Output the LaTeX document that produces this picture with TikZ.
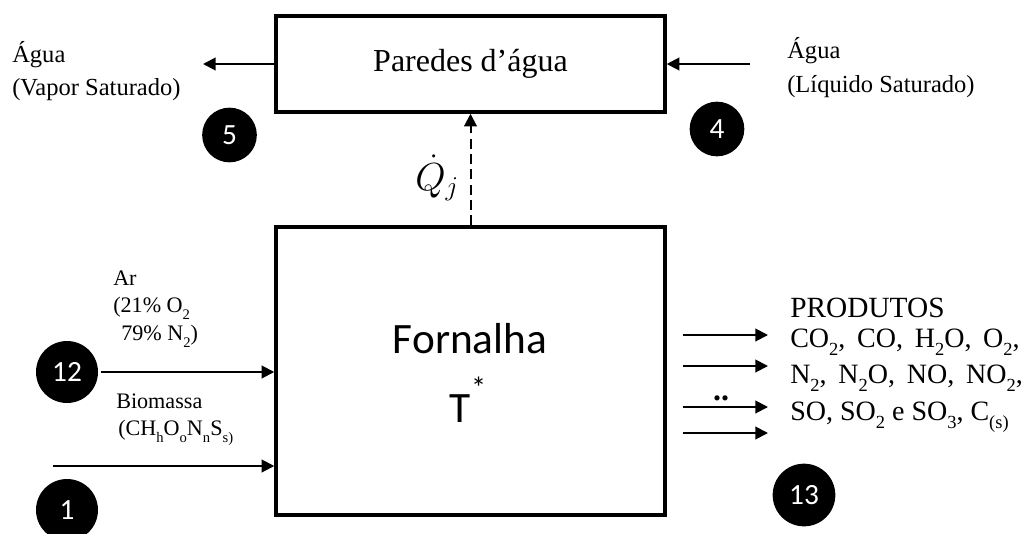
\documentclass[tikz,border=0pt]{standalone}
\usepackage{fontspec}
\usepackage{graphicx}
\setmainfont{Liberation Serif}
\newfontfamily\calib{Carlito}
\usetikzlibrary{arrows.meta}
\newcommand\lo[1]{\raisebox{-0.32em}{\scalebox{0.66}{#1}}}
\newcommand\gap{\hspace{0.42em}}
\tikzset{
  box/.style={draw, line width=2.6pt, rectangle, inner sep=0pt, minimum width=291.75pt},
  arr/.style={line width=1.5pt, -{Triangle[length=9.5pt,width=9.5pt]}},
  lbl/.style={anchor=base west, inner sep=0pt},
  numc/.style={circle, fill=black, text=white, inner sep=0pt, font=\calib\fontsize{22}{22}\selectfont},
  heatarr/.style={line width=1.5pt, dash pattern=on 7.5pt off 4pt, -{Triangle[length=9.5pt,width=9.5pt]}}
}
\begin{document}
\begin{tikzpicture}[x=0.75pt,y=-0.75pt]
\useasboundingbox (0,0) rectangle (1026,533);
% boxes
\node[box, minimum height=72pt, font=\fontsize{24}{24}\selectfont] (par) at (470.5,64) {Paredes d’água};
\node[box, minimum height=216pt] (fur) at (470.5,371) {};
\node[lbl, anchor=base, font=\calib\fontsize{32.5}{32.5}\selectfont] (forn) at (470,353) {Fornalha};
\node[lbl, anchor=base, font=\calib\fontsize{32.5}{32.5}\selectfont] (tstar) at (468,422) {T\raisebox{0.55em}{\scalebox{0.7}{*}}};
% water side
\coordinate (vout) at (203,64);
\coordinate (lin) at (750,64);
\draw[arr] (par.west) -- (vout);
\draw[arr] (lin) -- (par.east);
\node[lbl, font=\fontsize{18.4}{18.4}\selectfont] (a1) at (12,62) {Água};
\node[lbl, font=\fontsize{18.4}{18.4}\selectfont] (a2) at (12,95) {(Vapor Saturado)};
\node[lbl, font=\fontsize{18.4}{18.4}\selectfont] (b1) at (787,58) {Água};
\node[lbl, font=\fontsize{18.4}{18.4}\selectfont] (b2) at (787,92) {(Líquido Saturado)};
% heat
\draw[heatarr] (fur.north) -- (par.south);
\node[lbl, font=\fontsize{24}{24}\selectfont] (q) at (415,190) {\scalebox{1.18}{$\dot{Q}_j$}};
% inputs
\coordinate (ain) at (101,372);
\coordinate (bin) at (53,466);
\draw[arr] (ain) -- (ain -| fur.west);
\draw[arr] (bin) -- (bin -| fur.west);
\node[lbl, font=\fontsize{16.6}{16.6}\selectfont] (ar1) at (113,285) {Ar};
\node[lbl, font=\fontsize{16.6}{16.6}\selectfont] (ar2) at (113,312) {(21\% O\lo{2}};
\node[lbl, font=\fontsize{16.6}{16.6}\selectfont] (ar3) at (121,340) {79\% N\lo{2})};
\node[lbl, font=\fontsize{16.6}{16.6}\selectfont] (bio1) at (116,408) {Biomassa};
\node[lbl, font=\fontsize{16.6}{16.6}\selectfont] (bio2) at (118,435) {(CH\lo{h}O\lo{o}N\lo{n}S\lo{s)}};
% products
\foreach \i/\yy in {1/335,2/366,3/407,4/433}{
  \coordinate (ps\i) at (683,\yy);
  \coordinate (pe\i) at (768,\yy);
  \draw[arr] (ps\i) -- (pe\i);
}
\node[font=\bfseries\fontsize{24}{24}\selectfont, inner sep=0pt, anchor=base] (dots) at (721,400) {..};
\node[lbl, font=\fontsize{22}{22}\selectfont] (pr0) at (790,317) {PRODUTOS};
\node[lbl, font=\fontsize{21}{21}\selectfont] (pr1) at (790,347) {CO\lo{2},\gap CO,\gap H\lo{2}O,\gap O\lo{2},};
\node[lbl, font=\fontsize{21}{21}\selectfont] (pr2) at (790,383) {N\lo{2},\gap N\lo{2}O,\gap NO,\gap NO\lo{2},};
\node[lbl, font=\fontsize{21}{21}\selectfont] (pr3) at (790,420) {SO, SO\lo{2} e SO\lo{3}, C\lo{(s)}};
% numbered circles
\node[numc, minimum size=41pt] (n5) at (229.5,135) {5};
\node[numc, minimum size=41pt] (n4) at (717,129) {4};
\node[numc, minimum size=46.5pt] (n12) at (67,372) {12};
\node[numc, minimum size=46.5pt] (n1) at (67,510) {1};
\node[numc, minimum size=47pt] (n13) at (804,495) {13};
\end{tikzpicture}
\end{document}
